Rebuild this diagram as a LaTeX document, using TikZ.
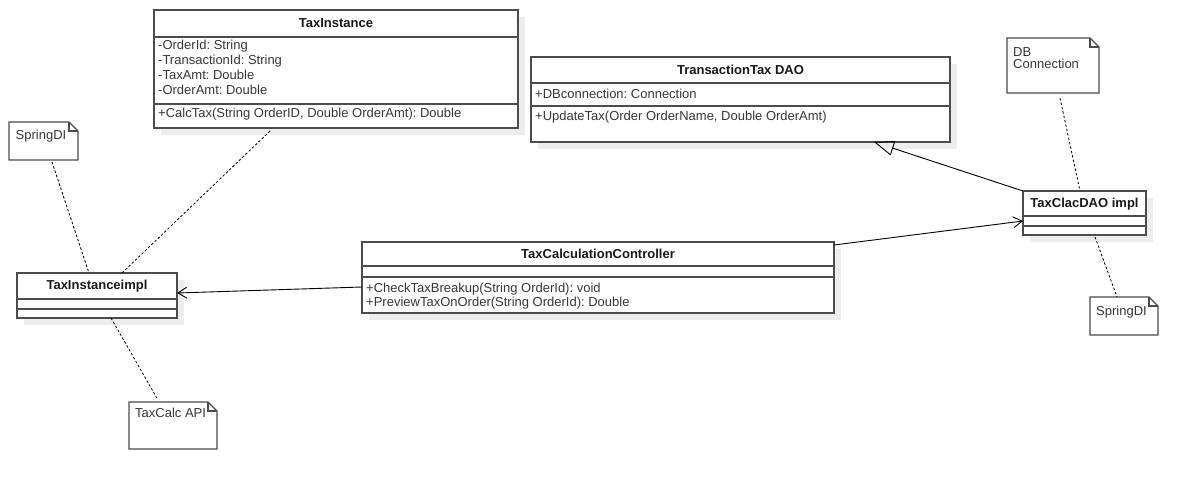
\documentclass[tikz,border=0pt]{standalone}
\usepackage{fontspec}
\setmainfont{Liberation Sans}
\usetikzlibrary{arrows.meta,shadows,calc}
\frenchspacing
\tikzset{
  cls/.style={draw=black!70, line width=1.4pt, fill=white, outer sep=0pt, inner sep=0pt,
    drop shadow={shadow xshift=7pt, shadow yshift=-7pt, fill=black!7, opacity=1}},
  clsline/.style={draw=black!70, line width=1.4pt},
  notebody/.style={outer sep=0pt, inner sep=0pt, fill=white},
  noteline/.style={draw=black!70, line width=1.2pt, line join=miter},
  title/.style={font=\fontsize{13}{15}\selectfont\bfseries\frenchspacing, text=black!90, anchor=base, inner sep=0pt},
  txt/.style={font=\fontsize{13}{15}\selectfont\frenchspacing, text=black!78, anchor=base west, inner sep=0pt},
  dep/.style={draw=black, line width=0.8pt, dash pattern=on 2.5pt off 2pt},
  assoc/.style={draw=black, line width=0.9pt, -{Straight Barb[length=9pt,width=11pt,line width=0.9pt]}},
  inherit/.style={draw=black, line width=0.9pt, -{Triangle[open,length=20pt,width=15pt,line width=0.9pt]}}
}
\newcommand{\mydognote}[1]{%
  \draw[noteline,fill=white] (#1.north west) -- ([xshift=-9pt]#1.north east) -- ([yshift=-9pt]#1.north east) -- (#1.south east) -- (#1.south west) -- cycle;
  \draw[noteline] ([xshift=-9pt]#1.north east) -- ([xshift=-9pt,yshift=-9pt]#1.north east) -- ([yshift=-9pt]#1.north east);
}
\newcommand{\mysep}[2]{%
  \draw[clsline] ([yshift=-#2pt]#1.north west) -- ([yshift=-#2pt]#1.north east);
}
\begin{document}
\begin{tikzpicture}[x=1pt,y=-1pt]
\useasboundingbox[fill=white] (0,0) rectangle (1199,490);

% ---------- class boxes ----------
\node[cls, minimum width=364pt, minimum height=118pt] (ti) at (336,69) {};
\mysep{ti}{27}
\mysep{ti}{94}
\node[title] (ti-t) at (336,27.5) {TaxInstance};
\node[txt] (ti-a1) at (158,49.5) {-OrderId: String};
\node[txt] (ti-a2) at (158,64.5) {-TransactionId: String};
\node[txt] (ti-a3) at (158,79.5) {-TaxAmt: Double};
\node[txt] (ti-a4) at (158,94.5) {-OrderAmt: Double};
\node[txt] (ti-m1) at (158,117.5) {+CalcTax(String OrderID, Double OrderAmt): Double};

\node[cls, minimum width=419pt, minimum height=85pt] (dao) at (740.5,99.5) {};
\mysep{dao}{26}
\mysep{dao}{49}
\node[title] (dao-t) at (740.5,74.5) {TransactionTax DAO};
\node[txt] (dao-a1) at (535,98) {+DBconnection: Connection};
\node[txt] (dao-m1) at (535,120) {+UpdateTax(Order OrderName, Double OrderAmt)};

\node[cls, minimum width=472pt, minimum height=71pt] (ctl) at (598,277.5) {};
\mysep{ctl}{24}
\mysep{ctl}{35}
\node[title] (ctl-t) at (598,258.5) {TaxCalculationController};
\node[txt] (ctl-m1) at (366,292.5) {+CheckTaxBreakup(String OrderId): void};
\node[txt] (ctl-m2) at (366,306.5) {+PreviewTaxOnOrder(String OrderId): Double};

\node[cls, minimum width=160pt, minimum height=45pt] (tii) at (97,295.5) {};
\mysep{tii}{26}
\mysep{tii}{36}
\node[title] (tii-t) at (97,289.5) {TaxInstanceimpl};

\node[cls, minimum width=123pt, minimum height=44pt] (tcd) at (1084.5,213) {};
\mysep{tcd}{25}
\mysep{tcd}{35}
\node[title] (tcd-t) at (1084.5,207.5) {TaxClacDAO impl};

% ---------- notes ----------
\node[notebody, minimum width=69pt, minimum height=38pt] (n1) at (43.5,141) {};
\mydognote{n1}
\node[txt] (n1-t) at (15.5,139.5) {SpringDI};

\node[notebody, minimum width=88pt, minimum height=47pt] (n2) at (173,425.5) {};
\mydognote{n2}
\node[txt] (n2-t) at (135,417.5) {TaxCalc API};

\node[notebody, minimum width=92pt, minimum height=55pt] (n3) at (1053,65.5) {};
\mydognote{n3}
\node[txt] (n3-t1) at (1013,56.5) {DB};
\node[txt] (n3-t2) at (1013,68.5) {Connection};

\node[notebody, minimum width=68pt, minimum height=38pt] (n4) at (1124,316) {};
\mydognote{n4}
\node[txt] (n4-t) at (1096,315.5) {SpringDI};

% ---------- dashed note / dependency links ----------
\draw[dep] ([xshift=8.5pt,yshift=-2pt]n1.south) -- ([xshift=-8pt]tii.north);
\draw[dep] ([xshift=-66pt,yshift=-3pt]ti.south) -- ([xshift=25pt]tii.north);
\draw[dep] ([xshift=14pt]tii.south) -- ([xshift=-15pt,yshift=2pt]n2.north);
\draw[dep] ([xshift=7pt,yshift=-5pt]n3.south) -- ([xshift=-4.5pt]tcd.north);
\draw[dep] ([xshift=10.5pt,yshift=-2pt]tcd.south) -- ([xshift=-7pt]n4.north);

% ---------- associations / generalisation ----------
\draw[assoc] ([yshift=-9.5pt]ctl.west) -- ([yshift=2.5pt]tii.east);
\draw[assoc] ([yshift=-3pt]ctl.north east) -- ([yshift=-8pt]tcd.west);
\draw[inherit] (tcd.north west) -- ([xshift=133.5pt]dao.south);
\end{tikzpicture}
\end{document}
